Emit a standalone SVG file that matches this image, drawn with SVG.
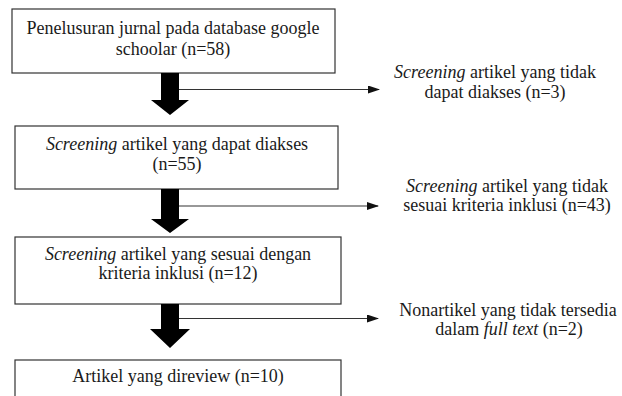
<svg xmlns="http://www.w3.org/2000/svg" width="622" height="396" viewBox="0 0 622 396">
<style>
.box{fill:#fff;stroke:#333;stroke-width:1.2}
.t{font-family:'Liberation Serif','Times New Roman',serif;font-size:18px;fill:#1a1a1a;text-anchor:middle}
.it{font-style:italic}
.side{stroke:#333;stroke-width:1.2;fill:none}
.big{fill:#000}
</style>
<defs>
<marker id="ah" markerWidth="12" markerHeight="8" refX="11" refY="4" orient="auto" markerUnits="userSpaceOnUse">
<path d="M0,0 L12,4 L0,8 Z" fill="#111"/>
</marker>
</defs>
<rect width="622" height="396" fill="#fff"/>
<g id="n1">
<rect class="box" x="12" y="9" width="323" height="64"/>
<text class="t" x="173" y="34">Penelusuran jurnal pada database google</text>
<text class="t" x="173" y="55">schoolar (n=58)</text>
</g>
<g id="n2">
<rect class="box" x="15" y="126" width="323" height="63"/>
<text class="t" x="177" y="150"><tspan class="it">Screening</tspan> artikel yang dapat diakses</text>
<text class="t" x="177" y="170">(n=55)</text>
</g>
<g id="n3">
<rect class="box" x="15" y="237" width="326" height="67"/>
<text class="t" x="178" y="260"><tspan class="it">Screening</tspan> artikel yang sesuai dengan</text>
<text class="t" x="178" y="279">kriteria inklusi (n=12)</text>
</g>
<g id="n4">
<rect class="box" x="15" y="360" width="326" height="50"/>
<text class="t" x="178" y="382">Artikel yang direview (n=10)</text>
</g>
<g id="x1">
<text class="t" x="495" y="78"><tspan class="it">Screening</tspan> artikel yang tidak</text>
<text class="t" x="495" y="98">dapat diakses (n=3)</text>
</g>
<g id="x2">
<text class="t" x="507" y="192"><tspan class="it">Screening</tspan> artikel yang tidak</text>
<text class="t" x="507" y="211">sesuai kriteria inklusi (n=43)</text>
</g>
<g id="x3">
<text class="t" x="508" y="316">Nonartikel yang tidak tersedia</text>
<text class="t" x="509" y="335">dalam <tspan class="it">full text</tspan> (n=2)</text>
</g>
<g id="connectors">
<path class="big" d="M161,73 H179 V100 H189 L170,115 L151,100 H161 Z"/>
<path class="big" d="M161,189 H179 V219 H189 L170,233 L151,219 H161 Z"/>
<path class="big" d="M161,304 H179 V329 H190 L170,348 L150,329 H161 Z"/>
<line class="side" x1="179" y1="89.5" x2="379" y2="89.5" marker-end="url(#ah)"/>
<line class="side" x1="179" y1="206" x2="378" y2="206" marker-end="url(#ah)"/>
<line class="side" x1="179" y1="318.5" x2="378" y2="318.5" marker-end="url(#ah)"/>
</g>
</svg>
